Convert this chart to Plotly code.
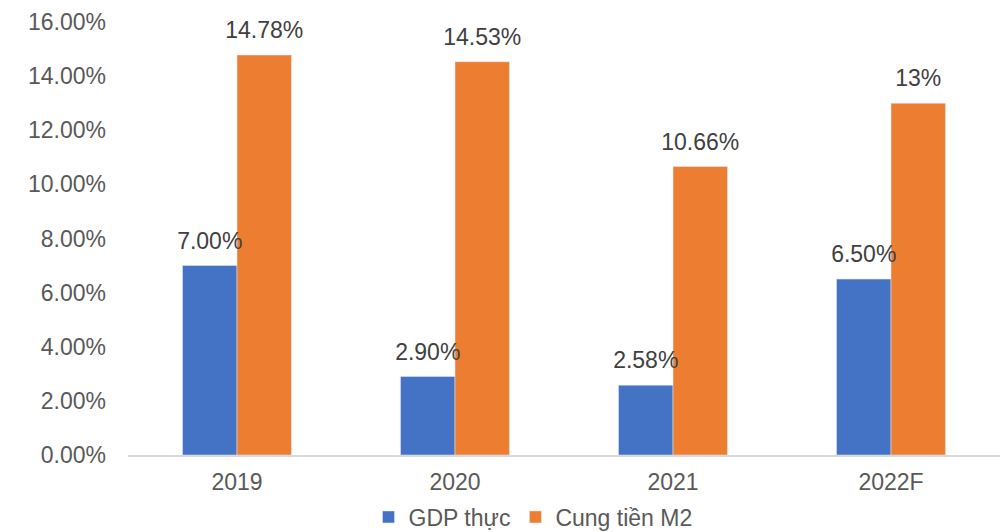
import plotly.graph_objects as go

categories = ["2019", "2020", "2021", "2022F"]
gdp = [7.00, 2.90, 2.58, 6.50]
m2 = [14.78, 14.53, 10.66, 13.0]
gdp_labels = ["7.00%", "2.90%", "2.58%", "6.50%"]
m2_labels = ["14.78%", "14.53%", "10.66%", "13%"]
tick_vals = [0, 2, 4, 6, 8, 10, 12, 14, 16]
tick_text = ["0.00%", "2.00%", "4.00%", "6.00%", "8.00%", "10.00%", "12.00%", "14.00%", "16.00%"]

FONT = "Liberation Sans, Arial, sans-serif"
BLUE = "#4472C4"
ORANGE = "#ED7D31"

fig = go.Figure()
fig.add_trace(go.Bar(name="GDP thực", x=categories, y=gdp, marker_color=BLUE,
                     offsetgroup="g", alignmentgroup="a", hoverinfo="skip"))
fig.add_trace(go.Bar(name="Cung tiền M2", x=categories, y=m2, marker_color=ORANGE,
                     offsetgroup="m", alignmentgroup="a", hoverinfo="skip"))

# data labels as grouped scatter text aligned with the bars
for vals, labels in ((gdp, gdp_labels), (m2, m2_labels)):
    fig.add_trace(go.Scatter(x=categories, y=vals, text=labels, mode="markers+text",
                             textposition="top center", showlegend=False,
                             marker=dict(size=16, opacity=0),
                             textfont=dict(size=23, color="#404040", family=FONT),
                             cliponaxis=False, hoverinfo="skip"))

fig.update_layout(
    width=1000, height=532,
    margin=dict(l=128, r=0, t=22, b=77, autoexpand=False),
    barmode="group", bargap=0.5, bargroupgap=0,
    scattermode="group", scattergap=0.5,
    plot_bgcolor="white", paper_bgcolor="white",
    font=dict(family=FONT, color="#595959", size=23),
    showlegend=True,
    legend=dict(orientation="h", x=(533 - 128) / 872, xanchor="center",
                y=(455 - 517) / 433, yanchor="middle",
                font=dict(size=23, color="#595959"), itemwidth=30, traceorder="normal"),
)
fig.update_yaxes(range=[0, 16], tickvals=tick_vals, ticktext=tick_text, showgrid=False,
                 zeroline=False, showline=False, ticklabelstandoff=21,
                 tickfont=dict(size=23, color="#595959"))
fig.update_xaxes(showline=True, linecolor="#D9D9D9", linewidth=1.5, showgrid=False,
                 tickfont=dict(size=23, color="#595959"), ticklabelstandoff=6)

fig.write_html("out.html")
